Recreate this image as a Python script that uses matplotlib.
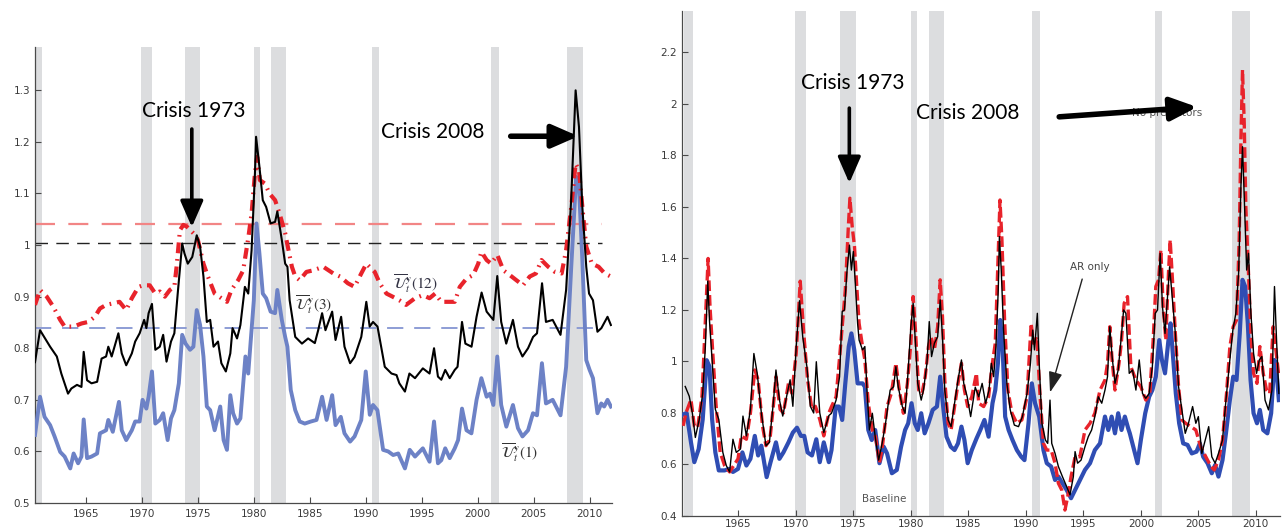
import matplotlib
matplotlib.use("Agg")
import matplotlib.pyplot as plt

# ---------------------------------------------------------------- data
recessions = [(1960.25, 1961.1), (1969.95, 1970.87), (1973.87, 1975.2),
              (1980.0, 1980.55), (1981.55, 1982.87), (1990.55, 1991.2),
              (2001.2, 2001.87), (2007.95, 2009.45)]

# left panel: aggregate uncertainty at horizons 1, 3 and 12
u3_pts = [
    (1960.45, 0.773), (1960.9, 0.835), (1961.8, 0.803), (1962.4, 0.784), (1962.8, 0.751),
    (1963.4, 0.712), (1963.7, 0.722), (1964.2, 0.729), (1964.6, 0.725), (1964.8, 0.793),
    (1965.1, 0.738), (1965.5, 0.732), (1966.0, 0.735), (1966.4, 0.780), (1966.8, 0.784),
    (1967.0, 0.803), (1967.3, 0.784), (1967.9, 0.829), (1968.2, 0.790), (1968.6, 0.767),
    (1969.1, 0.790), (1969.4, 0.813), (1969.8, 0.829), (1970.2, 0.855), (1970.4, 0.839),
    (1970.6, 0.868), (1970.9, 0.886), (1971.2, 0.797), (1971.6, 0.803), (1971.9, 0.826),
    (1972.2, 0.774), (1972.6, 0.813), (1972.9, 0.829), (1973.2, 0.906), (1973.6, 1.003),
    (1973.8, 0.984), (1974.1, 0.964), (1974.5, 0.977), (1974.9, 1.019), (1975.2, 0.997),
    (1975.5, 0.939), (1975.8, 0.851), (1976.1, 0.855), (1976.4, 0.803), (1976.8, 0.813),
    (1977.1, 0.771), (1977.5, 0.755), (1977.9, 0.790), (1978.1, 0.839), (1978.5, 0.819),
    (1978.8, 0.845), (1979.2, 0.919), (1979.5, 0.906), (1979.8, 0.990), (1980.1, 1.139),
    (1980.2, 1.210), (1980.5, 1.152), (1980.8, 1.087), (1981.1, 1.074), (1981.5, 1.042),
    (1981.9, 1.045), (1982.1, 1.065), (1982.5, 1.010), (1982.8, 0.964), (1983.0, 0.958),
    (1983.2, 0.893), (1983.7, 0.822), (1984.3, 0.809), (1984.85, 0.819), (1985.45, 0.810),
    (1985.75, 0.835), (1986.1, 0.868), (1986.4, 0.835), (1987.0, 0.871), (1987.3, 0.816),
    (1987.8, 0.861), (1988.1, 0.803), (1988.6, 0.771), (1989.0, 0.783), (1989.6, 0.822),
    (1990.05, 0.890), (1990.35, 0.842), (1990.65, 0.851), (1991.05, 0.842), (1991.7, 0.764),
    (1992.3, 0.751), (1992.75, 0.748), (1993.0, 0.732), (1993.5, 0.716), (1993.9, 0.751),
    (1994.4, 0.742), (1995.1, 0.761), (1995.7, 0.751), (1996.1, 0.800), (1996.45, 0.745),
    (1996.75, 0.739), (1997.1, 0.758), (1997.5, 0.742), (1997.95, 0.758), (1998.2, 0.764),
    (1998.6, 0.851), (1998.9, 0.809), (1999.45, 0.803), (1999.9, 0.861), (2000.35, 0.908),
    (2000.8, 0.871), (2001.4, 0.855), (2001.75, 0.940), (2002.1, 0.851), (2002.55, 0.809),
    (2003.15, 0.855), (2003.6, 0.803), (2004.0, 0.784), (2004.5, 0.800), (2004.95, 0.822),
    (2005.3, 0.829), (2005.75, 0.926), (2006.1, 0.851), (2006.7, 0.855), (2007.4, 0.826),
    (2007.9, 0.913), (2008.35, 1.087), (2008.75, 1.300), (2009.05, 1.229), (2009.35, 1.074),
    (2009.7, 0.958), (2009.95, 0.906), (2010.3, 0.893), (2010.7, 0.832), (2011.05, 0.839),
    (2011.6, 0.861), (2011.9, 0.845),
]

u1_pts = [
    (1960.45, 0.632), (1960.9, 0.706), (1961.3, 0.667), (1961.8, 0.651), (1962.2, 0.629),
    (1962.7, 0.599), (1963.1, 0.590), (1963.6, 0.567), (1963.9, 0.596), (1964.3, 0.577),
    (1964.6, 0.590), (1964.8, 0.662), (1965.1, 0.587), (1965.5, 0.590), (1966.0, 0.596),
    (1966.25, 0.635), (1966.8, 0.641), (1967.0, 0.661), (1967.4, 0.638), (1967.95, 0.696),
    (1968.2, 0.641), (1968.6, 0.622), (1969.1, 0.641), (1969.4, 0.658), (1969.8, 0.658),
    (1970.06, 0.700), (1970.4, 0.683), (1970.6, 0.706), (1970.9, 0.755), (1971.2, 0.654),
    (1971.6, 0.661), (1971.9, 0.674), (1972.3, 0.622), (1972.6, 0.664), (1972.9, 0.680),
    (1973.3, 0.732), (1973.6, 0.826), (1973.9, 0.809), (1974.3, 0.797), (1974.6, 0.803),
    (1974.9, 0.874), (1975.2, 0.845), (1975.5, 0.784), (1975.8, 0.687), (1976.1, 0.680),
    (1976.5, 0.641), (1977.0, 0.687), (1977.3, 0.622), (1977.6, 0.603), (1977.9, 0.709),
    (1978.15, 0.674), (1978.5, 0.654), (1978.8, 0.664), (1979.25, 0.784), (1979.5, 0.751),
    (1979.8, 0.835), (1980.0, 0.893), (1980.24, 1.042), (1980.5, 0.984), (1980.8, 0.906),
    (1981.1, 0.897), (1981.5, 0.871), (1981.9, 0.868), (1982.1, 0.913), (1982.5, 0.855),
    (1982.8, 0.822), (1983.0, 0.803), (1983.3, 0.719), (1983.7, 0.680), (1984.1, 0.658),
    (1984.55, 0.654), (1985.1, 0.658), (1985.6, 0.661), (1986.1, 0.706), (1986.5, 0.661),
    (1987.0, 0.709), (1987.3, 0.651), (1987.77, 0.667), (1988.1, 0.635), (1988.6, 0.619),
    (1989.0, 0.629), (1989.6, 0.661), (1990.0, 0.755), (1990.36, 0.671), (1990.65, 0.690),
    (1991.04, 0.680), (1991.55, 0.603), (1992.0, 0.600), (1992.45, 0.593), (1992.9, 0.596),
    (1993.5, 0.567), (1993.93, 0.603), (1994.4, 0.590), (1995.1, 0.606), (1995.7, 0.580),
    (1996.1, 0.658), (1996.45, 0.577), (1996.75, 0.583), (1997.1, 0.606), (1997.5, 0.587),
    (1997.95, 0.606), (1998.25, 0.622), (1998.6, 0.683), (1999.0, 0.641), (1999.44, 0.635),
    (1999.9, 0.700), (2000.33, 0.742), (2000.8, 0.706), (2001.1, 0.712), (2001.4, 0.690),
    (2001.75, 0.784), (2002.1, 0.690), (2002.56, 0.648), (2003.15, 0.690), (2003.6, 0.645),
    (2004.0, 0.629), (2004.5, 0.641), (2004.94, 0.674), (2005.3, 0.670), (2005.74, 0.771),
    (2006.1, 0.693), (2006.7, 0.700), (2007.4, 0.670), (2007.9, 0.764), (2008.36, 0.958),
    (2008.8, 1.132), (2009.05, 1.113), (2009.35, 0.971), (2009.7, 0.777), (2010.0, 0.758),
    (2010.3, 0.742), (2010.7, 0.674), (2011.04, 0.693), (2011.3, 0.687), (2011.6, 0.700),
    (2011.9, 0.687),
]

u12_pts = [
    (1960.45, 0.884), (1960.9, 0.913), (1961.5, 0.900), (1962.1, 0.880), (1962.7, 0.855),
    (1963.1, 0.842), (1963.9, 0.842), (1964.6, 0.848), (1965.2, 0.851), (1965.8, 0.861),
    (1966.25, 0.877), (1966.8, 0.884), (1967.4, 0.887), (1968.0, 0.890), (1968.6, 0.874),
    (1969.1, 0.897), (1969.7, 0.919), (1970.1, 0.922), (1970.7, 0.922), (1971.2, 0.906),
    (1971.6, 0.910), (1972.05, 0.900), (1972.5, 0.913), (1972.9, 0.919), (1973.1, 0.958),
    (1973.4, 1.029), (1973.7, 1.039), (1974.0, 1.036), (1974.6, 1.023), (1975.0, 1.010),
    (1975.5, 0.964), (1975.9, 0.939), (1976.5, 0.906), (1977.1, 0.897), (1977.6, 0.890),
    (1978.0, 0.913), (1978.6, 0.932), (1979.05, 0.951), (1979.5, 1.013), (1979.8, 1.061),
    (1980.1, 1.139), (1980.3, 1.171), (1980.54, 1.126), (1981.0, 1.119), (1981.4, 1.100),
    (1981.9, 1.087), (1982.3, 1.061), (1982.8, 1.023), (1983.1, 0.990), (1983.4, 0.958),
    (1983.7, 0.939), (1984.1, 0.932), (1984.7, 0.948), (1985.3, 0.951), (1986.2, 0.958),
    (1987.1, 0.945), (1987.7, 0.939), (1988.4, 0.926), (1989.0, 0.919), (1989.6, 0.945),
    (1990.06, 0.964), (1990.8, 0.948), (1991.25, 0.926), (1991.85, 0.906), (1992.4, 0.900),
    (1993.0, 0.893), (1993.6, 0.884), (1994.4, 0.897), (1995.1, 0.903), (1995.7, 0.897),
    (1996.2, 0.906), (1996.75, 0.890), (1997.35, 0.890), (1997.95, 0.890), (1998.4, 0.919),
    (1999.0, 0.935), (1999.6, 0.942), (2000.05, 0.964), (2000.33, 0.987), (2000.8, 0.971),
    (2001.2, 0.964), (2001.75, 0.981), (2002.3, 0.951), (2002.86, 0.942), (2003.45, 0.932),
    (2004.05, 0.922), (2004.65, 0.939), (2005.2, 0.945), (2005.7, 0.971), (2006.3, 0.958),
    (2006.9, 0.948), (2007.5, 0.945), (2007.9, 0.990), (2008.36, 1.074), (2008.75, 1.158),
    (2009.05, 1.145), (2009.35, 1.074), (2009.7, 0.997), (2010.2, 0.964), (2010.8, 0.958),
    (2011.35, 0.945), (2011.9, 0.939),
]

thresholds = [1.04, 1.005, 0.84]

# right panel: baseline, no predictors, AR only
base_black = [
    (1960.38, 0.903), (1960.73, 0.865), (1961.0, 0.800), (1961.26, 0.705), (1961.6, 0.775),
    (1961.9, 0.877), (1962.13, 1.057), (1962.34, 1.312), (1962.49, 1.159), (1962.72, 1.005),
    (1963.0, 0.814), (1963.3, 0.775), (1963.65, 0.647), (1963.95, 0.596), (1964.24, 0.571),
    (1964.53, 0.698), (1964.82, 0.647), (1965.18, 0.660), (1965.4, 0.788), (1965.7, 0.711),
    (1966.05, 0.814), (1966.35, 1.031), (1966.64, 0.954), (1967.0, 0.800), (1967.4, 0.673),
    (1967.7, 0.686), (1968.04, 0.839), (1968.27, 0.967), (1968.57, 0.852), (1968.86, 0.788),
    (1969.2, 0.865), (1969.5, 0.929), (1969.74, 0.826), (1970.03, 1.057), (1970.32, 1.236),
    (1970.6, 1.095), (1970.96, 0.980), (1971.26, 0.826), (1971.55, 0.800), (1971.78, 0.999),
    (1972.08, 0.800), (1972.43, 0.724), (1972.87, 0.790), (1973.1, 0.799), (1973.5, 0.850),
    (1973.8, 0.941), (1974.03, 1.194), (1974.23, 1.200), (1974.43, 1.342), (1974.66, 1.452),
    (1974.83, 1.355), (1975.0, 1.427), (1975.17, 1.304), (1975.37, 1.148), (1975.5, 1.083),
    (1975.8, 1.045), (1976.0, 1.058), (1976.2, 0.876), (1976.4, 0.734), (1976.65, 0.799),
    (1976.9, 0.708), (1977.2, 0.617), (1977.5, 0.682), (1977.8, 0.760), (1978.2, 0.889),
    (1978.5, 0.902), (1978.7, 0.980), (1978.9, 0.902), (1979.26, 0.825), (1979.5, 0.799),
    (1979.77, 0.967), (1980.0, 1.135), (1980.2, 1.226), (1980.4, 1.071), (1980.6, 0.915),
    (1980.9, 0.850), (1981.1, 0.889), (1981.4, 0.993), (1981.6, 1.155), (1981.8, 1.019),
    (1982.05, 1.071), (1982.33, 1.096), (1982.55, 1.239), (1982.75, 1.096), (1982.95, 0.889),
    (1983.24, 0.773), (1983.5, 0.747), (1983.8, 0.838), (1984.1, 0.928), (1984.4, 1.006),
    (1984.6, 0.915), (1984.9, 0.863), (1985.2, 0.786), (1985.6, 0.900), (1985.9, 0.863),
    (1986.2, 0.915), (1986.5, 0.838), (1986.8, 0.889), (1987.0, 0.993), (1987.2, 0.941),
    (1987.4, 1.058), (1987.6, 1.278), (1987.7, 1.485), (1987.86, 1.355), (1988.06, 1.122),
    (1988.35, 0.915), (1988.64, 0.812), (1989.0, 0.753), (1989.36, 0.747), (1989.7, 0.786),
    (1990.1, 0.876), (1990.4, 0.993), (1990.6, 1.122), (1990.75, 1.045), (1991.0, 1.187),
    (1991.16, 0.993), (1991.4, 0.760), (1991.7, 0.695), (1991.9, 0.682), (1992.1, 0.850),
    (1992.25, 0.682), (1992.54, 0.643), (1992.83, 0.592), (1993.18, 0.553), (1993.55, 0.514),
    (1993.84, 0.482), (1994.13, 0.553), (1994.28, 0.650), (1994.5, 0.605), (1994.8, 0.617),
    (1995.14, 0.669), (1995.43, 0.708), (1995.72, 0.734), (1996.0, 0.786), (1996.3, 0.863),
    (1996.6, 0.838), (1996.88, 0.889), (1997.1, 0.941), (1997.3, 1.135), (1997.5, 1.019),
    (1997.75, 0.915), (1998.03, 0.967), (1998.3, 1.096), (1998.5, 1.200), (1998.7, 1.187),
    (1998.99, 0.954), (1999.28, 0.967), (1999.57, 0.889), (1999.86, 1.006), (2000.14, 0.876),
    (2000.43, 0.857), (2000.72, 0.876), (2001.0, 0.980), (2001.25, 1.187), (2001.45, 1.200),
    (2001.68, 1.420), (2001.88, 1.213), (2002.1, 1.109), (2002.3, 1.239), (2002.5, 1.368),
    (2002.75, 1.239), (2003.0, 1.109), (2003.28, 0.902), (2003.57, 0.812), (2003.86, 0.721),
    (2004.14, 0.760), (2004.5, 0.825), (2004.78, 0.760), (2005.0, 0.786), (2005.3, 0.643),
    (2005.6, 0.695), (2005.9, 0.747), (2006.17, 0.630), (2006.46, 0.605), (2006.75, 0.643),
    (2007.1, 0.695), (2007.4, 0.850), (2007.68, 0.980), (2008.0, 1.122), (2008.26, 1.187),
    (2008.5, 1.342), (2008.7, 1.679), (2008.84, 1.834), (2009.0, 1.627), (2009.2, 1.355),
    (2009.36, 1.420), (2009.57, 1.187), (2009.8, 1.032), (2010.06, 0.954), (2010.3, 1.006),
    (2010.52, 1.019), (2010.8, 0.850), (2011.1, 0.812), (2011.4, 0.889), (2011.62, 1.291),
    (2011.8, 1.083), (2012.0, 0.876),
]

no_pred_red = [
    (1960.2, 0.750), (1960.44, 0.800), (1960.88, 0.852), (1961.17, 0.750), (1961.46, 0.743),
    (1961.84, 0.865), (1962.13, 1.159), (1962.37, 1.400), (1962.54, 1.210), (1962.78, 1.031),
    (1963.07, 0.826), (1963.42, 0.647), (1963.8, 0.596), (1964.24, 0.571), (1964.6, 0.596),
    (1964.97, 0.622), (1965.26, 0.711), (1965.7, 0.698), (1966.05, 0.800), (1966.43, 0.967),
    (1966.72, 0.929), (1967.1, 0.750), (1967.4, 0.673), (1967.75, 0.698), (1968.04, 0.826),
    (1968.27, 0.941), (1968.63, 0.814), (1968.92, 0.800), (1969.36, 0.916), (1969.65, 0.877),
    (1970.03, 1.031), (1970.38, 1.312), (1970.67, 1.120), (1971.02, 0.929), (1971.4, 0.814),
    (1971.7, 0.826), (1972.08, 0.775), (1972.43, 0.711), (1972.87, 0.800), (1973.1, 0.825),
    (1973.5, 0.863), (1973.86, 1.045), (1974.1, 1.174), (1974.3, 1.278), (1974.55, 1.511),
    (1974.7, 1.634), (1974.9, 1.524), (1975.1, 1.446), (1975.3, 1.290), (1975.5, 1.148),
    (1975.8, 1.058), (1976.0, 1.006), (1976.3, 0.838), (1976.65, 0.734), (1976.93, 0.708),
    (1977.27, 0.605), (1977.56, 0.682), (1977.93, 0.825), (1978.3, 0.876), (1978.7, 0.993),
    (1979.0, 0.889), (1979.35, 0.799), (1979.7, 0.915), (1980.0, 1.071), (1980.2, 1.252),
    (1980.4, 1.122), (1980.68, 0.889), (1980.97, 0.876), (1981.25, 0.941), (1981.53, 1.058),
    (1981.76, 1.096), (1982.05, 1.045), (1982.33, 1.135), (1982.55, 1.317), (1982.75, 1.174),
    (1982.95, 0.928), (1983.24, 0.760), (1983.5, 0.734), (1983.8, 0.825), (1984.1, 0.915),
    (1984.4, 0.993), (1984.66, 0.889), (1984.94, 0.825), (1985.3, 0.863), (1985.7, 0.954),
    (1985.9, 0.838), (1986.33, 0.825), (1986.76, 0.863), (1987.05, 0.980), (1987.34, 1.071),
    (1987.57, 1.381), (1987.75, 1.627), (1987.92, 1.472), (1988.15, 1.161), (1988.44, 0.889),
    (1988.79, 0.799), (1989.22, 0.760), (1989.65, 0.773), (1990.1, 0.863), (1990.46, 1.148),
    (1990.66, 1.071), (1990.95, 1.096), (1991.24, 0.863), (1991.53, 0.682), (1991.82, 0.656),
    (1992.2, 0.656), (1992.54, 0.605), (1992.83, 0.527), (1993.12, 0.501), (1993.4, 0.423),
    (1993.64, 0.475), (1993.93, 0.553), (1994.28, 0.630), (1994.7, 0.630), (1995.14, 0.734),
    (1995.58, 0.760), (1996.0, 0.799), (1996.45, 0.889), (1996.88, 0.928), (1997.1, 0.993),
    (1997.3, 1.135), (1997.5, 1.006), (1997.75, 0.889), (1998.1, 0.993), (1998.3, 1.071),
    (1998.55, 1.226), (1998.84, 1.252), (1999.13, 0.980), (1999.57, 0.928), (2000.0, 0.902),
    (2000.43, 0.850), (2000.78, 0.876), (2001.07, 1.083), (2001.3, 1.291), (2001.54, 1.317),
    (2001.74, 1.433), (2001.94, 1.213), (2002.17, 1.083), (2002.4, 1.342), (2002.55, 1.472),
    (2002.75, 1.317), (2003.0, 1.109), (2003.28, 0.902), (2003.57, 0.773), (2003.9, 0.760),
    (2004.35, 0.747), (2004.78, 0.734), (2005.2, 0.669), (2005.65, 0.630), (2006.1, 0.592),
    (2006.38, 0.579), (2006.75, 0.617), (2007.1, 0.695), (2007.45, 0.876), (2007.74, 1.058),
    (2008.03, 1.135), (2008.32, 1.161), (2008.55, 1.472), (2008.7, 1.860), (2008.84, 2.132),
    (2008.99, 1.925), (2009.13, 1.601), (2009.36, 1.342), (2009.57, 1.109), (2009.8, 0.954),
    (2010.1, 0.915), (2010.35, 1.058), (2010.64, 0.954), (2010.93, 0.889), (2011.2, 0.876),
    (2011.5, 1.135), (2011.74, 1.045), (2011.97, 0.954),
]

ar_blue = [
    (1960.2, 0.794), (1960.5, 0.800), (1960.88, 0.686), (1961.17, 0.609), (1961.55, 0.660),
    (1961.9, 0.775), (1962.25, 1.005), (1962.49, 0.980), (1962.72, 0.775), (1963.0, 0.647),
    (1963.3, 0.577), (1963.8, 0.577), (1964.2, 0.583), (1964.53, 0.571), (1964.97, 0.583),
    (1965.35, 0.647), (1965.7, 0.596), (1966.05, 0.622), (1966.43, 0.711), (1966.72, 0.635),
    (1967.0, 0.673), (1967.46, 0.551), (1967.8, 0.609), (1968.27, 0.686), (1968.57, 0.622),
    (1968.92, 0.647), (1969.36, 0.686), (1969.74, 0.724), (1970.1, 0.743), (1970.44, 0.711),
    (1970.73, 0.711), (1971.02, 0.647), (1971.4, 0.635), (1971.78, 0.698), (1972.08, 0.609),
    (1972.43, 0.686), (1972.87, 0.609), (1973.1, 0.656), (1973.47, 0.825), (1973.75, 0.825),
    (1974.03, 0.773), (1974.3, 0.915), (1974.6, 1.058), (1974.83, 1.109), (1975.08, 1.045),
    (1975.37, 0.915), (1975.57, 0.915), (1975.8, 0.915), (1976.0, 0.902), (1976.3, 0.734),
    (1976.6, 0.695), (1976.9, 0.734), (1977.27, 0.605), (1977.64, 0.669), (1977.93, 0.643),
    (1978.35, 0.566), (1978.78, 0.579), (1979.15, 0.669), (1979.5, 0.734), (1979.77, 0.760),
    (1980.06, 0.838), (1980.34, 0.760), (1980.6, 0.734), (1980.9, 0.799), (1981.2, 0.721),
    (1981.53, 0.760), (1981.9, 0.812), (1982.27, 0.825), (1982.55, 0.941), (1982.84, 0.812),
    (1983.1, 0.708), (1983.47, 0.669), (1983.8, 0.656), (1984.1, 0.682), (1984.4, 0.747),
    (1984.66, 0.695), (1984.94, 0.605), (1985.3, 0.656), (1985.7, 0.700), (1986.04, 0.734),
    (1986.4, 0.773), (1986.76, 0.708), (1987.1, 0.838), (1987.34, 0.889), (1987.57, 0.993),
    (1987.77, 1.161), (1987.98, 1.058), (1988.2, 0.786), (1988.5, 0.734), (1988.84, 0.695),
    (1989.22, 0.656), (1989.6, 0.630), (1989.88, 0.617), (1990.23, 0.760), (1990.52, 0.915),
    (1990.8, 0.838), (1991.16, 0.786), (1991.53, 0.656), (1991.82, 0.605), (1992.2, 0.592),
    (1992.54, 0.540), (1992.83, 0.553), (1993.18, 0.527), (1993.55, 0.501), (1993.93, 0.469),
    (1994.28, 0.501), (1994.7, 0.540), (1995.14, 0.579), (1995.58, 0.605), (1996.0, 0.656),
    (1996.45, 0.682), (1996.88, 0.786), (1997.17, 0.734), (1997.46, 0.786), (1997.75, 0.721),
    (1998.03, 0.799), (1998.32, 0.734), (1998.61, 0.786), (1998.9, 0.740), (1999.04, 0.721),
    (1999.42, 0.656), (1999.71, 0.605), (2000.0, 0.695), (2000.38, 0.799), (2000.72, 0.863),
    (2001.0, 0.889), (2001.3, 0.941), (2001.6, 1.083), (2001.83, 1.006), (2002.1, 0.954),
    (2002.4, 1.083), (2002.58, 1.148), (2002.8, 1.019), (2003.04, 0.876), (2003.33, 0.760),
    (2003.68, 0.682), (2004.06, 0.676), (2004.43, 0.643), (2004.84, 0.650), (2005.13, 0.682),
    (2005.42, 0.630), (2005.8, 0.605), (2006.17, 0.566), (2006.46, 0.598), (2006.75, 0.553),
    (2007.1, 0.617), (2007.4, 0.721), (2007.74, 0.850), (2008.03, 0.941), (2008.32, 0.928),
    (2008.6, 1.109), (2008.84, 1.317), (2009.07, 1.291), (2009.3, 1.148), (2009.54, 0.928),
    (2009.8, 0.799), (2010.1, 0.760), (2010.35, 0.812), (2010.64, 0.734), (2011.0, 0.721),
    (2011.33, 0.799), (2011.62, 1.006), (2011.86, 0.928), (2012.0, 0.850),
]

left_xticks = [1965, 1970, 1975, 1980, 1985, 1990, 1995, 2000, 2005, 2010]
left_yticks = [0.5, 0.6, 0.7, 0.8, 0.9, 1.0, 1.1, 1.2, 1.3]
left_ylabels = ["0.5", "0.6", "0.7", "0.8", "0.9", "1", "1.1", "1.2", "1.3"]
right_yticks = [0.4, 0.6, 0.8, 1.0, 1.2, 1.4, 1.6, 1.8, 2.0, 2.2]
right_ylabels = ["0.4", "0.6", "0.8", "1", "1.2", "1.4", "1.6", "1.8", "2", "2.2"]


def split(pts):
    return [p[0] for p in pts], [p[1] for p in pts]


# ---------------------------------------------------------------- style
plt.rcParams["mathtext.fontset"] = "stix"
BAND = "#dcdddf"
SPINE = "#4a4a4a"
RED = "#e8232b"
CRISIS_FONT = ["Lato", "DejaVu Sans"]

fig = plt.figure(figsize=(12.84, 5.29), dpi=100)
axL = fig.add_axes([35 / 1284, 26 / 529, 577 / 1284, 456 / 529])
axR = fig.add_axes([682 / 1284, 13 / 529, 598 / 1284, 505 / 529])


def style_axes(ax):
    for side in ("top", "right"):
        ax.spines[side].set_visible(False)
    for side in ("left", "bottom"):
        ax.spines[side].set_color(SPINE)
        ax.spines[side].set_linewidth(0.9)
    ax.tick_params(direction="in", length=4, width=0.8, color=SPINE,
                   labelsize=7.5, labelcolor="#3a3a3a")
    ax.set_facecolor("white")


# ---------------------------------------------------------------- left panel
axL.set_xlim(1960.45, 2012.0)
axL.set_ylim(0.5, 1.384)
for a, b in recessions:
    axL.axvspan(a, b, color=BAND, lw=0, zorder=0)

hl_colors = ["#f28585", "#222222", "#8595d2"]
hl_widths = [1.6, 1.0, 1.3]
for yv, c, w in zip(thresholds, hl_colors, hl_widths):
    axL.hlines(yv, 1960.45, 2011.1, colors=c, linewidth=w,
               linestyles=(0, (9, 6)), zorder=2)

x, y = split(u1_pts)
axL.plot(x, y, color="#6d82c6", lw=2.8, zorder=3, solid_joinstyle="round")
x, y = split(u12_pts)
axL.plot(x, y, color=RED, lw=3.0, dashes=(2.6, 1.4, 0.4, 1.4), zorder=4)
x, y = split(u3_pts)
axL.plot(x, y, color="black", lw=1.5, zorder=5)

axL.set_xticks(left_xticks)
axL.set_yticks(left_yticks)
axL.set_yticklabels(left_ylabels)
style_axes(axL)
axL.tick_params(axis="x", pad=4.5)

axL.text(1985.3, 0.884, r"$\overline{\mathcal{U}}_t^{y}(3)$", fontsize=11,
         color="#333333", ha="center", va="center", zorder=6)
axL.text(1994.4, 0.926, r"$\overline{\mathcal{U}}_t^{y}(12)$", fontsize=11,
         color="#333344", ha="center", va="center", zorder=6)
axL.text(2003.75, 0.597, r"$\overline{\mathcal{U}}_t^{y}(1)$", fontsize=11,
         color="#333333", ha="center", va="center", zorder=6)

axL.text(1974.64, 1.26, "Crisis 1973", fontsize=15, family=CRISIS_FONT,
         ha="center", va="center", zorder=7)
axL.annotate("", xy=(1974.46, 1.035), xytext=(1974.46, 1.225),
             arrowprops=dict(arrowstyle="-|>,head_width=0.35,head_length=0.8",
                             lw=2.6, color="black", mutation_scale=20,
                             shrinkA=0, shrinkB=0), zorder=7)
axL.text(1995.94, 1.219, "Crisis 2008", fontsize=15, family=CRISIS_FONT,
         ha="center", va="center", zorder=7)
axL.annotate("", xy=(2009.0, 1.211), xytext=(2002.95, 1.211),
             arrowprops=dict(arrowstyle="-|>,head_width=0.35,head_length=0.8",
                             lw=4.0, color="black", mutation_scale=20,
                             shrinkA=0, shrinkB=0), zorder=7)

# ---------------------------------------------------------------- right panel
axR.set_xlim(1960.1, 2012.1)
axR.set_ylim(0.4, 2.361)
for a, b in recessions:
    axR.axvspan(a, b, color=BAND, lw=0, zorder=0)

x, y = split(ar_blue)
axR.plot(x, y, color="#2f4db3", lw=3.0, zorder=3, solid_joinstyle="round")
x, y = split(no_pred_red)
axR.plot(x, y, color=RED, lw=2.4, dashes=(3.2, 1.2), zorder=4)
x, y = split(base_black)
axR.plot(x, y, color="black", lw=1.0, zorder=5)

axR.set_xticks(left_xticks)
axR.set_yticks(right_yticks)
axR.set_yticklabels(right_ylabels)
style_axes(axR)
axR.tick_params(axis="x", pad=2.5)

axR.text(2002.3, 1.965, "No predictors", fontsize=7.5, color="#555555",
         ha="center", va="center", zorder=6)
axR.text(1995.6, 1.367, "AR only", fontsize=7.5, color="#444444",
         ha="center", va="center", zorder=6)
axR.annotate("", xy=(1992.1, 0.88), xytext=(1994.9, 1.32),
             arrowprops=dict(arrowstyle="-|>,head_width=0.3,head_length=0.9",
                             lw=1.0, color="#222222", mutation_scale=14,
                             shrinkA=0, shrinkB=0), zorder=6)
axR.text(1977.7, 0.466, "Baseline", fontsize=7.5, color="#555555",
         ha="center", va="center", zorder=6)

axR.text(1974.96, 2.08, "Crisis 1973", fontsize=15, family=CRISIS_FONT,
         ha="center", va="center", zorder=7)
axR.annotate("", xy=(1974.65, 1.693), xytext=(1974.65, 1.984),
             arrowprops=dict(arrowstyle="-|>,head_width=0.35,head_length=0.8",
                             lw=2.6, color="black", mutation_scale=20,
                             shrinkA=0, shrinkB=0), zorder=7)
axR.text(1984.9, 1.965, "Crisis 2008", fontsize=15, family=CRISIS_FONT,
         ha="center", va="center", zorder=7)
axR.annotate("", xy=(2004.9, 1.988), xytext=(1992.9, 1.95),
             arrowprops=dict(arrowstyle="-|>,head_width=0.35,head_length=0.8",
                             lw=4.0, color="black", mutation_scale=20,
                             shrinkA=0, shrinkB=0), zorder=7)

fig.savefig("out.png", dpi=100, facecolor="white")
